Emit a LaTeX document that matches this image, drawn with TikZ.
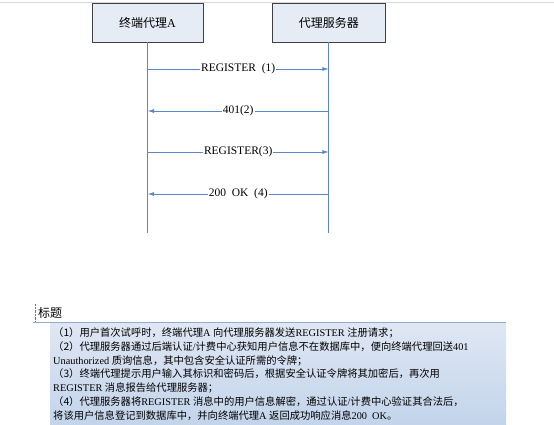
\documentclass[tikz,border=0pt]{standalone}
\usepackage{fontspec}
\setmainfont{Liberation Serif}
\newfontfamily\cjk{Noto Sans CJK SC}
\usetikzlibrary{positioning,arrows.meta}
\newcommand{\zh}[1]{{\cjk #1}}
\definecolor{hdrfill}{HTML}{E6ECF5}
\definecolor{lifeblue}{HTML}{5B87C5}
\definecolor{captop}{HTML}{DFE7F3}
\definecolor{capbot}{HTML}{C3D4EB}
\definecolor{capline}{HTML}{93ABCF}

\begin{document}
\begin{tikzpicture}[
  x=1pt,y=-1pt,
  >={Latex[length=6.5pt,width=4pt]},
  hdr/.style={draw=black!75,fill=hdrfill,minimum width=111pt,minimum height=39pt,inner sep=0pt,font=\fontsize{12}{14}\selectfont},
  life/.style={draw=lifeblue,line width=0.9pt},
  msg/.style={life,->},
  lbl/.style={fill=white,inner sep=1pt,font=\fontsize{11.5}{13}\selectfont}
]
\useasboundingbox (0,0) rectangle (554,424);
\draw[black!15,line width=1pt] (0,2) -- (554,2);

% the two parties
\node[hdr] (ua) at (147.5,22.5) {\zh{终端代理}A};
\node[hdr,minimum width=113pt,right=69pt of ua] (px) {\zh{代理服务器}};

\coordinate (uaend) at (ua |- 0,233);
\coordinate (pxend) at (px |- 0,233);
\draw[life] (ua) -- (uaend);
\draw[life] (px) -- (pxend);

% message rows
\coordinate (u1) at (ua |- 0,69);  \coordinate (p1) at (px |- 0,69);
\coordinate (u2) at (ua |- 0,111); \coordinate (p2) at (px |- 0,111);
\coordinate (u3) at (ua |- 0,152); \coordinate (p3) at (px |- 0,152);
\coordinate (u4) at (ua |- 0,194); \coordinate (p4) at (px |- 0,194);

\draw[msg] (u1) -- node[lbl]{REGISTER\ \ (1)} (p1);
\draw[msg] (p2) -- node[lbl]{401(2)} (u2);
\draw[msg] (u3) -- node[lbl]{REGISTER(3)} (p3);
\draw[msg] (p4) -- node[lbl]{200\ \ OK\ \ (4)} (u4);

% caption block
\node[anchor=west,inner sep=0pt,font=\fontsize{12}{14}\selectfont] (captitle) at (38,313) {\zh{标题}};
\draw[densely dotted,black!55] (35,304) -- (35,321);
\shade[top color=captop,bottom color=capbot] (50,323) rectangle (506,424);
\draw[capline,line width=1.5pt] (33,322.5) -- (506,322.5);
\node[anchor=north west,align=left,inner sep=0pt,font=\fontsize{10.3}{13.8}\selectfont] (notes) at (53,327.5) {%
\zh{（1）用户首次试呼时，终端代理}A \zh{向代理服务器发送}REGISTER \zh{注册请求；}\\
\zh{（2）代理服务器通过后端认证}/\zh{计费中心获知用户信息不在数据库中，便向终端代理回送}401\\
Unauthorized \zh{质询信息，其中包含安全认证所需的令牌；}\\
\zh{（3）终端代理提示用户输入其标识和密码后，根据安全认证令牌将其加密后，再次用}\\
REGISTER \zh{消息报告给代理服务器；}\\
\zh{（4）代理服务器将}REGISTER \zh{消息中的用户信息解密，通过认证}/\zh{计费中心验证其合法后，}\\
\zh{将该用户信息登记到数据库中，并向终端代理}A \zh{返回成功响应消息}200\ \ OK\zh{。}};
\end{tikzpicture}
\end{document}
